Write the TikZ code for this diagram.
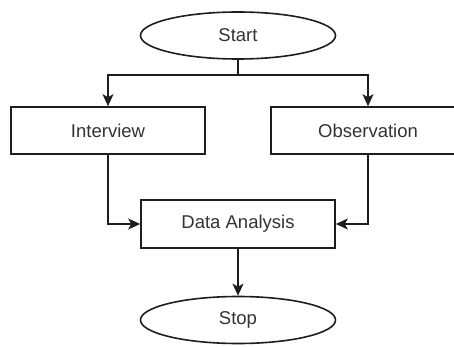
\documentclass[tikz,border=0pt]{standalone}
\usepackage{fontspec}
\setmainfont{Liberation Sans}
\usetikzlibrary{shapes.geometric,arrows.meta}
\definecolor{linec}{HTML}{1E1E1E}
\definecolor{textc}{HTML}{333333}
\tikzset{
  base/.style={draw=linec, line width=1.6pt, inner sep=0pt, text=textc,
    font=\fontsize{18.5}{22}\selectfont},
  term/.style={base, ellipse, minimum width=195pt, minimum height=47pt},
  proc/.style={base, rectangle, minimum width=194pt, minimum height=47pt},
  arr/.style={draw=linec, line width=1.6pt, -{Stealth[length=12pt,width=11pt,inset=3pt]}},
  ln/.style={draw=linec, line width=1.6pt}
}
\begin{document}
\begin{tikzpicture}[x=1pt,y=-1pt]
\clip (0,0) rectangle (454,347);
\fill[white] (0,0) rectangle (454,347);
\node[term] (start) at (238,35.5) {Start};
\node[proc] (interview) at (108,130.5) {Interview};
\node[proc] (observation) at (368,130.5) {Observation};
\node[proc, minimum height=48pt] (data) at (238,224) {Data Analysis};
\node[term] (stop) at (238,320) {Stop};
\coordinate (j) at (238,75);
\draw[ln] (start.south) -- (j);
\draw[arr] (j) -| (interview.north);
\draw[arr] (j) -| (observation.north);
\draw[arr] (interview.south) |- (data.west);
\draw[arr] (observation.south) |- (data.east);
\draw[arr] (data.south) -- (stop.north);
\end{tikzpicture}
\end{document}
